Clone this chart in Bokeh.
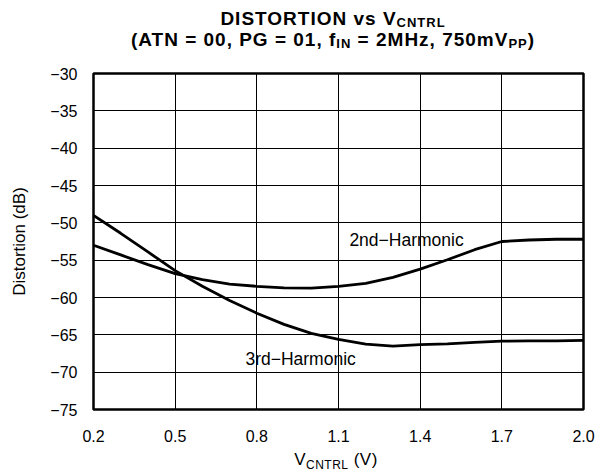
from bokeh.plotting import figure
from bokeh.models import Range1d, FixedTicker, Label, Div
from bokeh.layouts import column
from bokeh.embed import file_html
from bokeh.resources import INLINE

# ---- data ----
vcntrl = [0.2, 0.3, 0.4, 0.5, 0.6, 0.7, 0.8, 0.9, 1.0, 1.1,
          1.2, 1.3, 1.4, 1.5, 1.6, 1.7, 1.8, 1.9, 2.0]
harm2 = [-53.0, -54.3, -55.6, -56.8, -57.6, -58.2, -58.5, -58.7, -58.75, -58.5,
         -58.1, -57.3, -56.2, -54.95, -53.6, -52.5, -52.3, -52.2, -52.2]
harm3 = [-49.0, -51.4, -53.9, -56.4, -58.5, -60.4, -62.1, -63.6, -64.8, -65.6,
         -66.25, -66.5, -66.3, -66.2, -66.0, -65.85, -65.8, -65.8, -65.75]
x_ticks = [0.2, 0.5, 0.8, 1.1, 1.4, 1.7, 2.0]
x_tick_labels = ["0.2", "0.5", "0.8", "1.1", "1.4", "1.7", "2.0"]
y_ticks = [-75, -70, -65, -60, -55, -50, -45, -40, -35, -30]
y_tick_labels = ["\u221275", "\u221270", "\u221265", "\u221260", "\u221255",
                 "\u221250", "\u221245", "\u221240", "\u221235", "\u221230"]

FONT = "Liberation Sans"
SUB = 'style="font-size:13px;line-height:0;vertical-align:-2px;"'

title_div = Div(
    width=605, height=60, margin=0,
    text=(
        '<div style="width:520px;margin-left:73px;padding-top:8px;text-align:center;'
        'font-family:\'Liberation Sans\';font-weight:bold;font-size:19px;line-height:21px;'
        'letter-spacing:1px;color:black;white-space:nowrap;">'
        f'DISTORTION vs V<sub {SUB}>CNTRL</sub><br>'
        f'(ATN = 00, PG = 01, f<sub {SUB}>IN</sub>'
        f' = 2MHz, 750mV<sub {SUB}>PP</sub>)'
        '</div>'
    ),
)

p = figure(width=605, height=388, output_backend="svg", toolbar_location=None,
           x_range=Range1d(0.2, 2.0), y_range=Range1d(-75, -30),
           min_border_left=93, min_border_right=22, min_border_top=13, min_border_bottom=39)
p.title.text = ""
p.background_fill_color = "white"
p.border_fill_color = "white"
p.outline_line_color = "black"
p.outline_line_width = 2.5

for ax, ticks, labels in ((p.xaxis[0], x_ticks, x_tick_labels), (p.yaxis[0], y_ticks, y_tick_labels)):
    ax.ticker = FixedTicker(ticks=ticks)
    ax.major_label_overrides = {t: l for t, l in zip(ticks, labels)}
    ax.axis_line_color = None
    ax.major_tick_line_color = None
    ax.minor_tick_line_color = None
    ax.major_tick_out = 0
    ax.major_tick_in = 0
    ax.major_label_text_font = FONT
    ax.major_label_text_font_size = "16px"
    ax.major_label_text_color = "black"
p.xaxis.major_label_standoff = 20
p.yaxis.major_label_standoff = 16
p.yaxis.axis_label = "Distortion (dB)"
p.yaxis.axis_label_text_font = FONT
p.yaxis.axis_label_text_font_size = "17px"
p.yaxis.axis_label_text_font_style = "normal"
p.yaxis.axis_label_text_color = "black"
p.yaxis.axis_label_standoff = 18

p.xgrid.ticker = FixedTicker(ticks=x_ticks)
p.ygrid.ticker = FixedTicker(ticks=y_ticks)
for g in (p.xgrid[0], p.ygrid[0]):
    g.grid_line_color = "black"
    g.grid_line_width = 1
    g.grid_line_alpha = 1.0

p.line(vcntrl, harm2, line_color="black", line_width=2.8)
p.line(vcntrl, harm3, line_color="black", line_width=2.8)

p.add_layout(Label(x=1.14, y=-52.35, text="2nd\u2212Harmonic", text_font=FONT,
                   text_font_size="17.5px", text_color="black",
                   text_align="left", text_baseline="alphabetic"))
p.add_layout(Label(x=0.758, y=-68.25, text="3rd\u2212Harmonic", text_font=FONT,
                   text_font_size="17.5px", text_color="black",
                   text_align="left", text_baseline="alphabetic"))

xlabel_div = Div(
    width=605, height=28, margin=0,
    text=(
        '<div style="width:300px;margin-left:186px;padding-top:2px;text-align:center;'
        'font-family:\'Liberation Sans\';font-size:17px;line-height:20px;color:black;'
        'letter-spacing:0.5px;white-space:nowrap;">'
        'V<sub style="font-size:12px;line-height:0;vertical-align:-4px;">CNTRL</sub> (V)'
        '</div>'
    ),
)

layout = column(title_div, p, xlabel_div, spacing=0)
open("out.html", "w").write(file_html(layout, INLINE))
